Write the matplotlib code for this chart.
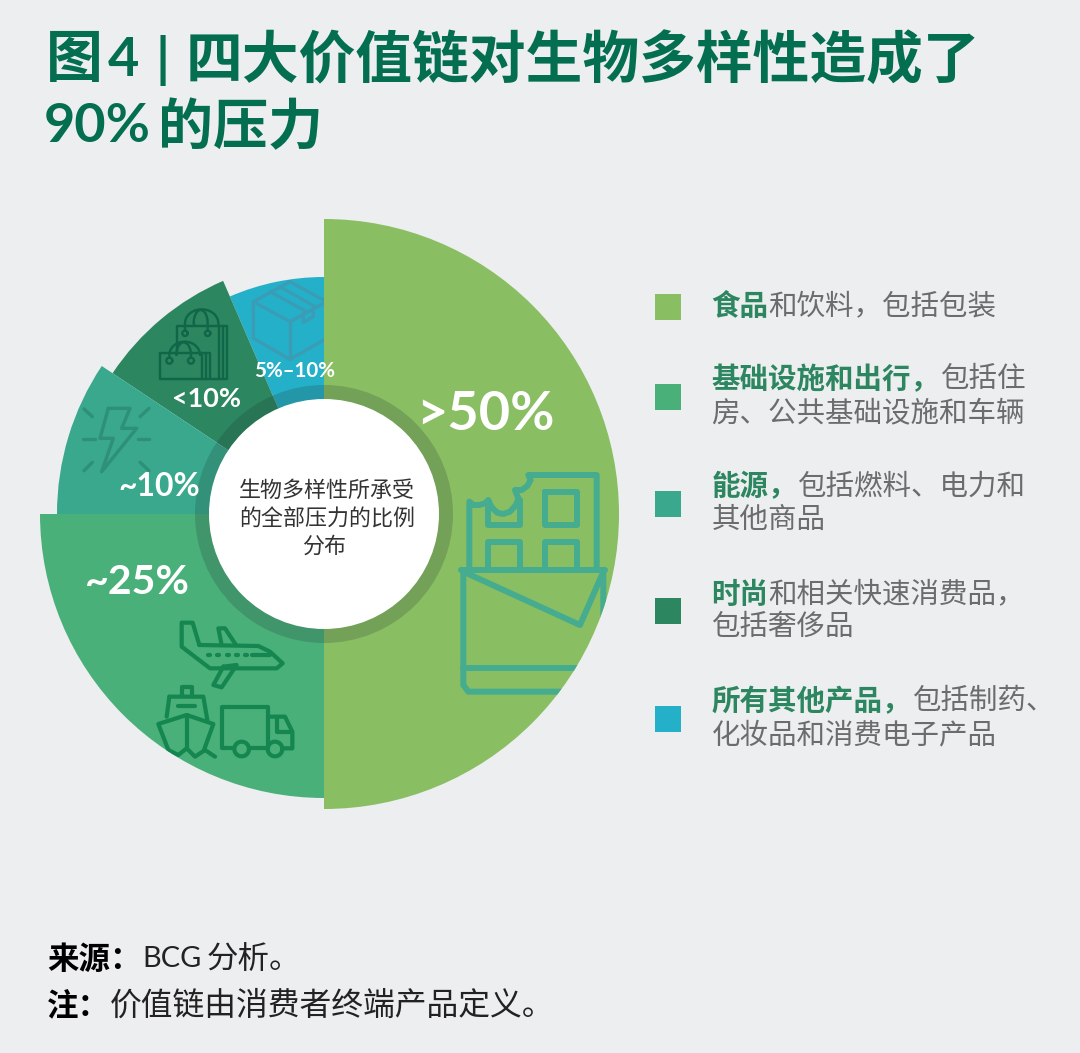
import numpy as np
import matplotlib
matplotlib.use("Agg")
import matplotlib.pyplot as plt
from matplotlib.patches import Wedge, Circle, Rectangle

FONT = ['Lato', 'Noto Sans CJK SC', 'DejaVu Sans']
plt.rcParams['font.family'] = FONT

# ---- data ----
categories = ['食品和饮料', '基础设施和出行', '能源', '时尚', '所有其他产品']
shares = [50.0, 25.0, 9.35, 9.15, 6.5]
value_labels = ['>50%', '~25%', '~10%', '<10%', '5%–10%']
outer_radii = [295, 284, 267, 254, 237]
colors = ['#8ABE62', '#4AB07A', '#39A88D', '#2C8660', '#25B0CA']
legend_lines = [
    [[('食品', True), ('和饮料，包括包装', False)]],
    [[('基础设施和出行，', True), ('包括住', False)], [('房、公共基础设施和车辆', False)]],
    [[('能源，', True), ('包括燃料、电力和', False)], [('其他商品', False)]],
    [[('时尚', True), ('和相关快速消费品，', False)], [('包括奢侈品', False)]],
    [[('所有其他产品，', True), ('包括制药、', False)], [('化妆品和消费电子产品', False)]],
]
center_lines = ['生物多样性所承受', '的全部压力的比例', '分布']

BG = '#EDEEF0'
fig = plt.figure(figsize=(10.8, 10.53), dpi=100, facecolor=BG)
ax = fig.add_axes([0, 0, 1, 1])
ax.set_xlim(0, 1080)
ax.set_ylim(1053, 0)
ax.axis('off')
px = 72 / 100  # points per pixel
CX, CY = 324, 514

# ---- wedges (inverted y axis: angles run clockwise from the top) ----
start = -90.0
wedges = []
zorders = [5, 4, 3, 2, 1]
for s, r, c, z in zip(shares, outer_radii, colors, zorders):
    end = start + s / 100 * 360
    w = Wedge((CX, CY), r, start, end, facecolor=c, edgecolor='none', zorder=z)
    ax.add_patch(w)
    wedges.append(w)
    start = end


def pl(zx, zy, pts, color, lw, clip, z, closed=False):
    xs = [zx[0] + p[0] / 3 for p in pts]
    ys = [zy[0] + p[1] / 3 for p in pts]
    if closed:
        xs.append(xs[0]); ys.append(ys[0])
    ln, = ax.plot(xs, ys, color=color, lw=lw * px, zorder=z + 0.5,
                  solid_capstyle='round', solid_joinstyle='round')
    ln.set_clip_path(clip)


def arc_pts(cx, cy, rx, ry, a0, a1):
    t = np.radians(np.linspace(a0, a1, 30))
    return list(zip(cx + rx * np.cos(t), cy + ry * np.sin(t)))


# ---- chocolate icon ----
o = ((440,), (450,))
c = '#45AC8F'; lw = 6; cl = wedges[0]; z = 5
for pts in [
    [(62, 360), (495, 360)],
    [(70, 360), (70, 705), (85, 725), (500, 725)],
    [(70, 655), (500, 655)],
    [(70, 365), (420, 525), (490, 365), (490, 520)],
    [(88, 355), (88, 155), (100, 165), (118, 165), (135, 160), (145, 150), (155, 172),
     (172, 188), (190, 192), (210, 185), (228, 165), (235, 145), (225, 120), (245, 120),
     (262, 108), (272, 90), (265, 75), (470, 75), (470, 355)],
    [(145, 165), (145, 225), (240, 225), (240, 150)],
    [(315, 125), (412, 125), (412, 225), (315, 225), (315, 125)],
    [(145, 355), (145, 275), (240, 275), (240, 355)],
    [(315, 355), (315, 275), (412, 275), (412, 355)],
]:
    pl(*o, pts, c, lw, cl, z)

# ---- transport icons ----
o = ((130,), (600,))
c = '#168650'; lw = 4.2; cl = wedges[1]; z = 4
for pts in [
    [(208, 135), (188, 68), (155, 68), (155, 140), (240, 205), (440, 205),
     (458, 190), (420, 155), (385, 138), (208, 135)],
    [(275, 135), (265, 85), (285, 85), (318, 135)],
    [(280, 200), (320, 195), (275, 262), (250, 255), (280, 200)],
    [(365, 165), (420, 165)],
    [(118, 290), (220, 290), (232, 360)],
    [(118, 290), (110, 350)],
    [(155, 288), (155, 262), (185, 262), (185, 288)],
    [(145, 317), (195, 317)],
    [(115, 450), (85, 372), (170, 345), (250, 372), (222, 450)],
    [(115, 450), (145, 465), (170, 445), (195, 470), (225, 450), (255, 470)],
    [(170, 345), (170, 445)],
    [(310, 445), (275, 445), (275, 322), (415, 322), (415, 445)],
    [(360, 445), (410, 445)],
    [(415, 350), (465, 350), (487, 395), (487, 445), (460, 445)],
    [(440, 355), (440, 395), (487, 395)],
    arc_pts(335, 447, 22, 22, 0, 360),
    arc_pts(435, 447, 22, 22, 0, 360),
]:
    pl(*o, pts, c, lw, cl, z)
for x0 in (235, 262, 290, 317, 345):
    pl(*o, [(x0, 165), (x0 + 6, 165)], c, lw, cl, z)

# ---- bolt icon ----
o = ((30,), (260,))
c = '#2F9078'; lw = 3.4; cl = wedges[2]; z = 3
for pts in [
    [(235, 445), (300, 445), (275, 505), (320, 505), (215, 635), (250, 535), (210, 535), (235, 445)],
    [(160, 537), (195, 537)], [(325, 537), (358, 537)],
    [(162, 447), (187, 470)], [(357, 445), (330, 470)],
    [(162, 632), (187, 607)], [(330, 607), (357, 632)],
]:
    pl(*o, pts, c, lw, cl, z)

# ---- bags icon ----
c = '#0F6748'; lw = 2.4; cl = wedges[3]; z = 2
for pts in [
    [(440, 280), (440, 198), (592, 198), (592, 356), (540, 356)],
    [(567, 198), (567, 356)], [(578, 198), (578, 356)],
    [(390, 280), (540, 280), (540, 356), (390, 356), (390, 280)],
    [(515, 280), (515, 356)], [(527, 280), (527, 356)],
    [(465, 212), (465, 190)] + arc_pts(515, 190, 50, 42, 180, 360) + [(565, 198)],
    [(492, 198), (492, 190)] + arc_pts(512, 190, 21, 40, 180, 360) + [(533, 212)],
    [(418, 293), (418, 285)] + arc_pts(464, 285, 46, 40, 180, 360),
    [(440, 280)] + arc_pts(461, 285, 22, 38, 180, 360) + [(483, 293)],
    arc_pts(418, 302, 9, 9, 0, 360),
    arc_pts(483, 302, 9, 9, 0, 360),
    arc_pts(465, 220, 8, 8, 0, 360),
    arc_pts(533, 220, 8, 8, 0, 360),
]:
    pl(*o, pts, c, lw, cl, z)

# ---- box icon ----
c = '#3A9DB5'; lw = 3.4; cl = wedges[4]; z = 1
for pts in [
    [(670, 125), (780, 65), (890, 125), (780, 185), (670, 125), (670, 235), (780, 298), (890, 235)],
    [(780, 185), (780, 298)],
    [(720, 95), (830, 155)], [(750, 80), (855, 140)],
    [(820, 160), (820, 187), (850, 170), (850, 145)],
]:
    pl(*o, pts, c, lw, cl, z)

# ---- hub ----
ax.add_patch(Circle((CX, CY), 129, facecolor='#1E3C32', alpha=0.22, edgecolor='none', zorder=7))
ax.add_patch(Circle((CX, CY), 115, facecolor='white', edgecolor='none', zorder=8))
for ln, y in zip(center_lines, (491, 519, 546)):
    ax.text(327 if ln != '分布' else 324, y, ln, ha='center', va='center',
            fontsize=22 * px, color='#333333', zorder=9)

# ---- value labels ----
label_pos = [(485, 414), (137, 583), (159, 487), (206, 399), (295, 371)]
label_px = [54, 41, 32, 27, 20.5]
for t, (x, y), s in zip(value_labels, label_pos, label_px):
    ax.text(x, y, t, ha='center', va='center', color='white', fontweight='bold',
            fontsize=s * px, zorder=10)

# ---- legend ----
LG = '#2C8660'
TXT = '#6B6C6E'
swatch_y = [294, 384, 491, 598, 706]
line_y = [[306], [379, 413], [486, 520], [594, 627], [701, 735]]
PITCH = 28.6
for col, sy, lines, ys in zip(colors, swatch_y, legend_lines, line_y):
    ax.add_patch(Rectangle((655, sy), 25.5, 26, facecolor=col, edgecolor='none'))
    for parts, y in zip(lines, ys):
        n = 0
        for text, bold in parts:
            ax.text(711.5 + n * PITCH, y, text, ha='left', va='center', fontsize=28.5 * px,
                    color=LG if bold else TXT, fontweight='bold' if bold else 'normal')
            n += len(text)

# ---- title ----
TC = '#036E50'
TS = 56.8 * px
ax.text(46, 60, '图', ha='left', va='center', fontsize=TS, fontweight='bold', color=TC)
ax.text(108, 60, '4', ha='left', va='center', fontsize=54 * px, fontweight='bold', color=TC)
ax.text(155, 60, '|', ha='left', va='center', fontsize=54 * px, fontweight='bold', color=TC)
ax.text(186, 60, '四大价值链对生物多样性造成了', ha='left', va='center',
        fontsize=TS, fontweight='bold', color=TC)
ax.text(44, 127, '90%', ha='left', va='center', fontsize=54 * px, fontweight='bold', color=TC)
ax.text(158, 127, '的压力', ha='left', va='center', fontsize=55 * px, fontweight='bold', color=TC)

# ---- footer ----
FT = '#222222'
ax.text(47, 959, '来源：', ha='left', va='center', fontsize=31.5 * px, fontweight='bold', color='black')
ax.text(142, 959, 'BCG', ha='left', va='center', fontsize=29 * px, color=FT)
ax.text(207, 959, '分析。', ha='left', va='center', fontsize=31.5 * px, color=FT)
ax.text(47, 1005, '注：', ha='left', va='center', fontsize=31.5 * px, fontweight='bold', color='black')
ax.text(110, 1005, '价值链由消费者终端产品定义。', ha='left', va='center', fontsize=31.8 * px, color=FT)

fig.savefig('out.png', dpi=100, facecolor=BG)
